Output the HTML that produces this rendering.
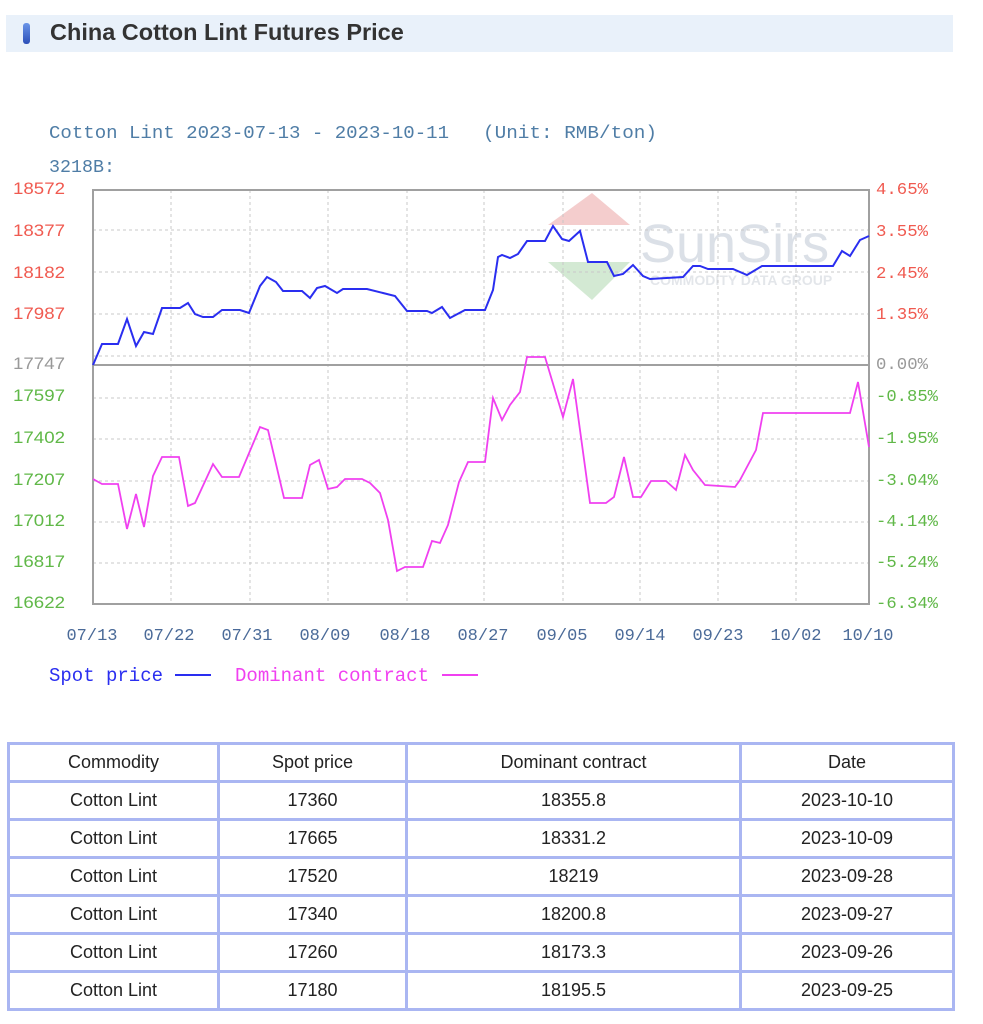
<!DOCTYPE html>
<html><head><meta charset="utf-8"><style>
body{margin:0;width:983px;height:1024px;background:#fff;position:relative;font-family:"Liberation Sans",sans-serif;overflow:hidden}
.hdr{position:absolute;left:6px;top:15px;width:947px;height:37px;background:#e9f1fa}
.hdr .ic{position:absolute;left:17px;top:8px;width:7px;height:21px;border-radius:3px;background:linear-gradient(#6a95e8,#2c4fb8)}
.hdr .t{position:absolute;left:44px;top:4px;font-size:23.5px;font-weight:bold;color:#333;white-space:nowrap}
table{position:absolute;left:7px;top:742px;border-collapse:collapse;border:3px solid #aab6f2;table-layout:fixed;width:945px}
td{border:3px solid #aab6f2;height:35px;text-align:center;font-size:18px;color:#222;padding:0}
</style></head><body>
<div class="hdr"><div class="ic"></div><div class="t">China Cotton Lint Futures Price</div></div>
<svg width="983" height="720" style="position:absolute;left:0;top:0" font-family="Liberation Mono,monospace">
<g opacity="0.35">
<polygon points="548,225 592,193 630,225" fill="#e07070"/>
<polygon points="548,262 630,262 592,300" fill="#80c080"/>
<text x="640" y="262" font-family="Liberation Sans,sans-serif" font-size="54" fill="#9aa8bb">SunSirs</text>
<text x="650" y="285" font-family="Liberation Sans,sans-serif" font-size="14" font-weight="bold" fill="#b0b8c4">COMMODITY DATA GROUP</text>
</g>
<text x="49" y="138" font-size="18" fill="#4f7da6" textLength="400" lengthAdjust="spacingAndGlyphs">Cotton Lint 2023-07-13 - 2023-10-11</text>
<text x="483" y="138" font-size="18" fill="#4f7da6" textLength="174" lengthAdjust="spacingAndGlyphs">(Unit: RMB/ton)</text>
<text x="49" y="172" font-size="18" fill="#4f7da6" textLength="66" lengthAdjust="spacingAndGlyphs">3218B:</text>
<g stroke="#c8c8c8" stroke-dasharray="3,3" stroke-width="1">
<line x1="93" x2="869" y1="230" y2="230"/><line x1="93" x2="869" y1="272" y2="272"/><line x1="93" x2="869" y1="314" y2="314"/><line x1="93" x2="869" y1="356" y2="356"/>
<line x1="93" x2="869" y1="398" y2="398"/><line x1="93" x2="869" y1="439" y2="439"/><line x1="93" x2="869" y1="481" y2="481"/><line x1="93" x2="869" y1="522" y2="522"/><line x1="93" x2="869" y1="563" y2="563"/>
<line x1="171" x2="171" y1="190" y2="604"/><line x1="250" x2="250" y1="190" y2="604"/><line x1="328" x2="328" y1="190" y2="604"/><line x1="407" x2="407" y1="190" y2="604"/><line x1="484" x2="484" y1="190" y2="604"/><line x1="563" x2="563" y1="190" y2="604"/><line x1="640" x2="640" y1="190" y2="604"/><line x1="718" x2="718" y1="190" y2="604"/><line x1="796" x2="796" y1="190" y2="604"/>
</g>
<rect x="93" y="190" width="776" height="414" fill="none" stroke="#a0a0a0" stroke-width="2"/>
<line x1="93" x2="869" y1="365" y2="365" stroke="#a0a0a0" stroke-width="2"/>
<polyline fill="none" stroke="#2a2ef0" stroke-width="2" points="93,365 102,344 118,344 127,319 136,346 144,332 153,334 162,308 180,308 188,303 195,314 203,317 213,317 222,310 240,310 249,313 260,286 267,277 276,282 283,291 302,291 310,298 317,288 325,286 337,293 343,289 367,289 383,293 395,296 407,311 427,311 432,313 442,307 450,318 465,310 485,310 493,290 498,257 502,255 510,258 518,254 527,241 545,241 553,226 562,239 569,241 580,231 588,262 607,262 614,276 623,274 633,265 643,276 650,279 683,277 693,266 700,266 708,269 733,269 747,275 762,266 833,266 842,251 850,256 860,240 869,236"/>
<polyline fill="none" stroke="#f040f0" stroke-width="1.8" points="93,479 102,484 118,484 127,529 136,494 144,527 153,476 162,457 179,457 188,506 195,503 213,464 222,477 239,477 260,427 268,430 284,498 302,498 310,465 319,460 328,489 337,487 345,479 362,479 370,483 380,493 388,520 397,571 405,567 423,567 432,541 440,543 448,525 459,482 468,462 485,462 493,398 502,420 510,405 520,392 527,357 545,357 563,417 573,379 580,430 590,503 606,503 614,497 624,457 633,497 641,497 651,481 666,481 676,490 685,455 693,470 705,485 735,487 740,480 756,450 763,413 850,413 858,382 869,447"/>
<g font-family="Liberation Sans,sans-serif" font-size="17">
<g fill="#f05a50">
<text x="13" y="194" textLength="52" lengthAdjust="spacingAndGlyphs">18572</text>
<text x="13" y="236" textLength="52" lengthAdjust="spacingAndGlyphs">18377</text>
<text x="13" y="278" textLength="52" lengthAdjust="spacingAndGlyphs">18182</text>
<text x="13" y="319" textLength="52" lengthAdjust="spacingAndGlyphs">17987</text>
</g>
<text x="13" y="369" fill="#999" textLength="52" lengthAdjust="spacingAndGlyphs">17747</text>
<g fill="#60b848">
<text x="13" y="401" textLength="52" lengthAdjust="spacingAndGlyphs">17597</text>
<text x="13" y="443" textLength="52" lengthAdjust="spacingAndGlyphs">17402</text>
<text x="13" y="485" textLength="52" lengthAdjust="spacingAndGlyphs">17207</text>
<text x="13" y="526" textLength="52" lengthAdjust="spacingAndGlyphs">17012</text>
<text x="13" y="567" textLength="52" lengthAdjust="spacingAndGlyphs">16817</text>
<text x="13" y="608" textLength="52" lengthAdjust="spacingAndGlyphs">16622</text>
</g>
</g>
<g font-size="17">
<g fill="#f05a50">
<text x="876" y="194" textLength="52" lengthAdjust="spacingAndGlyphs">4.65%</text>
<text x="876" y="236" textLength="52" lengthAdjust="spacingAndGlyphs">3.55%</text>
<text x="876" y="278" textLength="52" lengthAdjust="spacingAndGlyphs">2.45%</text>
<text x="876" y="319" textLength="52" lengthAdjust="spacingAndGlyphs">1.35%</text>
</g>
<text x="876" y="369" fill="#999" textLength="52" lengthAdjust="spacingAndGlyphs">0.00%</text>
<g fill="#60b848">
<text x="876" y="401" textLength="62" lengthAdjust="spacingAndGlyphs">-0.85%</text>
<text x="876" y="443" textLength="62" lengthAdjust="spacingAndGlyphs">-1.95%</text>
<text x="876" y="485" textLength="62" lengthAdjust="spacingAndGlyphs">-3.04%</text>
<text x="876" y="526" textLength="62" lengthAdjust="spacingAndGlyphs">-4.14%</text>
<text x="876" y="567" textLength="62" lengthAdjust="spacingAndGlyphs">-5.24%</text>
<text x="876" y="608" textLength="62" lengthAdjust="spacingAndGlyphs">-6.34%</text>
</g>
</g>
<g font-size="17" fill="#4a6a98" text-anchor="middle">
<text x="92" y="640">07/13</text><text x="169" y="640">07/22</text><text x="247" y="640">07/31</text><text x="325" y="640">08/09</text><text x="405" y="640">08/18</text><text x="483" y="640">08/27</text><text x="562" y="640">09/05</text><text x="640" y="640">09/14</text><text x="718" y="640">09/23</text><text x="796" y="640">10/02</text><text x="868" y="640">10/10</text>
</g>
<text x="49" y="681" font-size="19" fill="#2a2ef0" textLength="114" lengthAdjust="spacingAndGlyphs">Spot price</text>
<line x1="175" x2="211" y1="675" y2="675" stroke="#2a2ef0" stroke-width="2"/>
<text x="235" y="681" font-size="19" fill="#f040f0" textLength="194" lengthAdjust="spacingAndGlyphs">Dominant contract</text>
<line x1="442" x2="478" y1="675" y2="675" stroke="#f040f0" stroke-width="2"/>
</svg>
<table>
<colgroup><col style="width:210px"><col style="width:188px"><col style="width:334px"><col style="width:213px"></colgroup>
<tr><td>Commodity</td><td>Spot price</td><td>Dominant contract</td><td>Date</td></tr>
<tr><td>Cotton Lint</td><td>17360</td><td>18355.8</td><td>2023-10-10</td></tr>
<tr><td>Cotton Lint</td><td>17665</td><td>18331.2</td><td>2023-10-09</td></tr>
<tr><td>Cotton Lint</td><td>17520</td><td>18219</td><td>2023-09-28</td></tr>
<tr><td>Cotton Lint</td><td>17340</td><td>18200.8</td><td>2023-09-27</td></tr>
<tr><td>Cotton Lint</td><td>17260</td><td>18173.3</td><td>2023-09-26</td></tr>
<tr><td>Cotton Lint</td><td>17180</td><td>18195.5</td><td>2023-09-25</td></tr>
</table>
</body></html>
